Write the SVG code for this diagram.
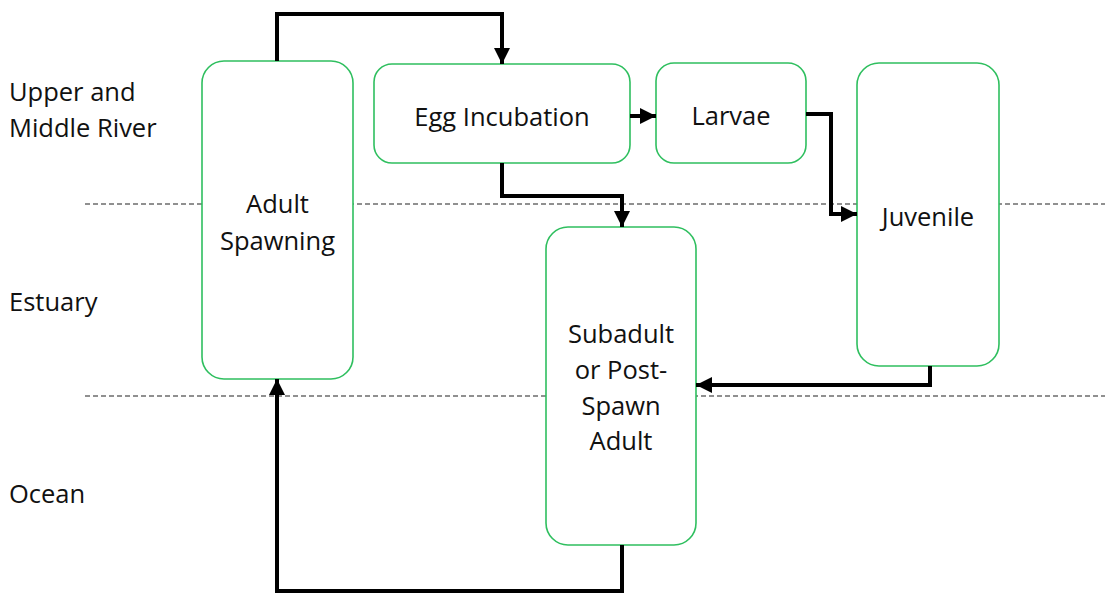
<svg xmlns="http://www.w3.org/2000/svg" width="1105" height="596" viewBox="0 0 1105 596">
<style>
.node{fill:#fff;stroke:#2fbf5f;stroke-width:1.6}
.t{font-family:"Open Sans","Noto Sans",sans-serif;font-size:25.5px;fill:#111;text-anchor:middle}
.lbl{font-family:"Open Sans","Noto Sans",sans-serif;font-size:25.5px;fill:#111}
.c{fill:none;stroke:#000;stroke-width:4;stroke-linejoin:miter}
.d{stroke:#222;stroke-width:1.2;stroke-dasharray:5,3}
</style>
<defs>
<marker id="ah" viewBox="0 0 10 10" refX="10" refY="5" markerWidth="4" markerHeight="4" orient="auto" markerUnits="strokeWidth">
<path d="M0,0 L10,5 L0,10 z" fill="#000"/>
</marker>
</defs>
<rect width="1105" height="596" fill="#fff"/>
<g id="zones">
<line class="d" x1="85" y1="204" x2="1105" y2="204"/>
<line class="d" x1="85" y1="396" x2="1105" y2="396"/>
<text class="lbl" x="9" y="101">Upper and</text>
<text class="lbl" x="9" y="137">Middle River</text>
<text class="lbl" x="9" y="311">Estuary</text>
<text class="lbl" x="9" y="503">Ocean</text>
</g>
<g id="node-adult"><rect class="node" x="202" y="61" width="151" height="318" rx="22"/>
<text class="t" x="277.5" y="213">Adult</text><text class="t" x="277.5" y="250">Spawning</text></g>
<g id="node-egg"><rect class="node" x="374" y="64" width="256" height="99" rx="18"/>
<text class="t" x="502" y="126">Egg Incubation</text></g>
<g id="node-larvae"><rect class="node" x="656" y="63" width="150" height="100" rx="18"/>
<text class="t" x="731" y="125">Larvae</text></g>
<g id="node-juvenile"><rect class="node" x="857" y="63" width="142" height="303" rx="22"/>
<text class="t" x="928" y="226">Juvenile</text></g>
<g id="node-subadult"><rect class="node" x="546" y="227" width="150" height="318" rx="22"/>
<text class="t" x="621" y="343">Subadult</text><text class="t" x="621" y="379">or Post-</text><text class="t" x="621" y="415">Spawn</text><text class="t" x="621" y="450">Adult</text></g>
<g id="connectors">
<path class="c" d="M277,61 V14 H502 V64" marker-end="url(#ah)"/>
<path class="c" d="M630,116 H656" marker-end="url(#ah)"/>
<path class="c" d="M806,114 H831 V214 H857" marker-end="url(#ah)"/>
<path class="c" d="M502,163 V196 H622 V227" marker-end="url(#ah)"/>
<path class="c" d="M930,366 V385 H696" marker-end="url(#ah)"/>
<path class="c" d="M622,545 V591 H277 V379" marker-end="url(#ah)"/>
</g>
</svg>
